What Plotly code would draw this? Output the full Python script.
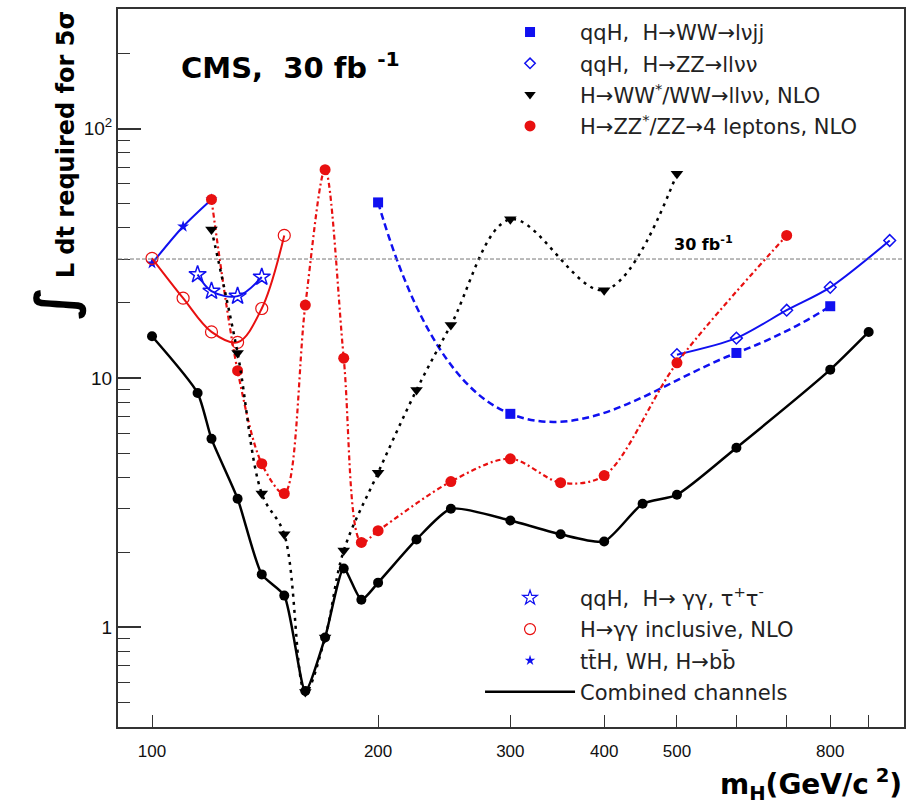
import plotly.graph_objects as go

# ---------------- data ----------------
comb_m = [100, 115, 120, 130, 140, 150, 160, 170, 180, 190, 200, 225, 250, 300, 350, 400, 450, 500, 600, 800, 900]
comb_L = [14.7, 8.7, 5.7, 3.28, 1.63, 1.34, 0.555, 0.91, 1.72, 1.29, 1.51, 2.25, 2.99, 2.68, 2.36, 2.21, 3.13, 3.4, 5.25, 10.8, 15.3]

bb_m = [100, 110, 120]
bb_L = [28.8, 40.5, 52.0]

qqgg_m = [115, 120, 130, 140]
qqgg_L = [26.0, 22.3, 21.3, 25.4]

gg_m = [100, 110, 120, 130, 140, 150]
gg_L = [30.2, 20.9, 15.3, 13.9, 19.0, 37.3]

zz4l_m = [120, 130, 140, 150, 160, 170, 180, 190, 200, 250, 300, 350, 400, 500, 700]
zz4l_L = [52.0, 10.7, 4.53, 3.44, 19.6, 68.5, 12.0, 2.19, 2.44, 3.84, 4.74, 3.8, 4.06, 11.5, 37.3]

ww_m = [120, 130, 140, 150, 160, 170, 180, 200, 225, 250, 300, 400, 500]
ww_L = [39.4, 12.6, 3.44, 2.36, 0.55, 0.91, 2.03, 4.17, 8.95, 16.3, 43.3, 22.5, 66.0]

lvjj_m = [200, 300, 600, 800]
lvjj_L = [50.6, 7.18, 12.6, 19.4]

llvv_m = [500, 600, 700, 800, 960]
llvv_L = [12.4, 14.45, 18.7, 23.1, 35.6]

ref_lumi = 30

x_ticks = [100, 200, 300, 400, 500, 800]
x_minor = [600, 700, 900]
y_ticks = [1, 10, 100]
y_ticktext = ["1", "10", "10<sup>2</sup>"]
y_minor = [0.5, 0.6, 0.7, 0.8, 0.9, 2, 3, 4, 5, 6, 7, 8, 9,
           20, 30, 40, 50, 60, 70, 80, 90, 200, 300]

BLUE = "#1010f0"
RED = "#e81010"
BLACK = "#000000"
FONT = "Liberation Sans, Arial, sans-serif"
WFONT = "DejaVu Sans, Verdana, sans-serif"

fig = go.Figure()

# ---------------- data traces ----------------
fig.add_trace(go.Scatter(x=bb_m, y=bb_L, mode="lines+markers", showlegend=False,
                         line=dict(color=BLUE, width=2, shape="spline", smoothing=0.8),
                         marker=dict(symbol="star", size=9, color=BLUE)))
fig.add_trace(go.Scatter(x=qqgg_m, y=qqgg_L, mode="lines+markers", showlegend=False,
                         line=dict(color=BLUE, width=2, shape="spline", smoothing=1.0),
                         marker=dict(symbol="star-open", size=13, color=BLUE, line=dict(width=1.5))))
fig.add_trace(go.Scatter(x=gg_m, y=gg_L, mode="lines+markers", showlegend=False,
                         line=dict(color=RED, width=2, shape="spline", smoothing=1.0),
                         marker=dict(symbol="circle-open", size=12, color=RED, line=dict(width=1.2))))
fig.add_trace(go.Scatter(x=lvjj_m, y=lvjj_L, mode="lines+markers", showlegend=False,
                         line=dict(color=BLUE, width=2.5, dash="7px,4px", shape="spline", smoothing=1.3),
                         marker=dict(symbol="square", size=10, color=BLUE)))
fig.add_trace(go.Scatter(x=llvv_m, y=llvv_L, mode="lines+markers", showlegend=False,
                         line=dict(color=BLUE, width=2, shape="spline", smoothing=0.8),
                         marker=dict(symbol="diamond-open", size=9, color=BLUE, line=dict(width=1.5))))
fig.add_trace(go.Scatter(x=zz4l_m, y=zz4l_L, mode="lines+markers", showlegend=False,
                         line=dict(color=RED, width=2.2, dash="5px,3px,2px,3px", shape="spline", smoothing=0.9),
                         marker=dict(symbol="circle", size=11, color=RED)))
fig.add_trace(go.Scatter(x=ww_m, y=ww_L, mode="lines+markers", showlegend=False,
                         line=dict(color=BLACK, width=2.5, dash="3px,5px", shape="spline", smoothing=1.0),
                         marker=dict(symbol="triangle-down", size=11, color=BLACK)))
fig.add_trace(go.Scatter(x=comb_m, y=comb_L, mode="lines+markers", showlegend=False,
                         line=dict(color=BLACK, width=2.5, shape="spline", smoothing=0.6),
                         marker=dict(symbol="circle", size=10, color=BLACK)))

# ---------------- legend-only entries ----------------
def leg(name, legend, group, mode, marker=None, line=None):
    kw = dict(x=[None], y=[None], mode=mode, name=name, legend=legend, legendgroup=group)
    if marker is not None:
        kw["marker"] = marker
    if line is not None:
        kw["line"] = line
    fig.add_trace(go.Scatter(**kw))

leg("qqH,  H→WW→lνjj", "legend", "a", "markers", marker=dict(symbol="square", size=10, color=BLUE))
leg("qqH,  H→ZZ→llνν", "legend", "b", "markers",
    marker=dict(symbol="diamond-open", size=8, color=BLUE, line=dict(width=1.5)))
leg("H→WW<sup>*</sup>/WW→llνν, NLO", "legend", "c", "markers",
    marker=dict(symbol="triangle-down", size=10, color=BLACK))
leg("H→ZZ<sup>*</sup>/ZZ→4 leptons, NLO", "legend", "d", "markers",
    marker=dict(symbol="circle", size=11, color=RED))

leg("qqH,  H→ γγ, τ<sup>+</sup>τ<sup>-</sup>", "legend2", "e", "markers",
    marker=dict(symbol="star-open", size=11, color=BLUE, line=dict(width=1.2)))
leg("H→γγ inclusive, NLO", "legend2", "f", "markers",
    marker=dict(symbol="circle-open", size=11, color=RED, line=dict(width=1.2)))
leg("tt̄H, WH, H→bb̄", "legend2", "g", "markers",
    marker=dict(symbol="star", size=8, color=BLUE))
leg("Combined channels", "legend2", "h", "lines", line=dict(color=BLACK, width=2.5))

# ---------------- reference line ----------------
fig.add_hline(y=ref_lumi, line=dict(color="#777777", width=1, dash="4px,2px"))

legend_common = dict(xanchor="left", yanchor="top", bgcolor="rgba(0,0,0,0)",
                     font=dict(family=WFONT, size=21, color="#222222"),
                     itemwidth=90, tracegroupgap=1, traceorder="grouped",
                     itemclick=False, itemdoubleclick=False)

fig.update_layout(
    width=914, height=806,
    margin=dict(l=118, r=10, t=7, b=79),
    paper_bgcolor="white", plot_bgcolor="white",
    font=dict(family=FONT, color="#000000"),
    legend=dict(x=0.4606, y=0.996, **legend_common),
    legend2=dict(x=0.4606, y=0.208, **legend_common),
    xaxis=dict(type="log", range=[1.9547, 3.0013],
               showline=True, linecolor="#333333", linewidth=2, mirror=True,
               showgrid=False, zeroline=False,
               tickmode="array", tickvals=x_ticks, ticktext=[str(v) for v in x_ticks],
               ticks="inside", ticklen=12, tickwidth=1.2, tickcolor="#333333",
               tickfont=dict(family=FONT, size=17, color="#111111"),
               ticklabelstandoff=8,
               minor=dict(tickmode="array", tickvals=x_minor, ticks="inside",
                          ticklen=12, tickwidth=1.2, tickcolor="#333333", showgrid=False)),
    yaxis=dict(type="log", range=[-0.4, 2.48],
               showline=True, linecolor="#333333", linewidth=2, mirror=True,
               showgrid=False, zeroline=False,
               tickmode="array", tickvals=y_ticks, ticktext=y_ticktext,
               ticks="inside", ticklen=23, tickwidth=1.5, tickcolor="#333333",
               tickfont=dict(family=FONT, size=19, color="#111111"),
               minor=dict(tickmode="array", tickvals=y_minor, ticks="inside",
                          ticklen=12, tickwidth=1.2, tickcolor="#333333", showgrid=False)),
)

# ---------------- text ----------------
fig.add_annotation(xref="paper", yref="paper", x=0.077, y=0.92, xanchor="left", yanchor="middle",
                   text="<b>CMS,  30 fb <sup>-1</sup></b>", showarrow=False,
                   font=dict(family=WFONT, size=29, color="#000000"))
fig.add_annotation(xref="paper", yref="paper", x=0.745, y=0.674, xanchor="center", yanchor="middle",
                   text="<b>30 fb<sup>-1</sup></b>", showarrow=False,
                   font=dict(family=WFONT, size=16, color="#000000"))
fig.add_annotation(xref="paper", yref="paper", x=1.0, y=-0.0806, xanchor="right", yanchor="middle",
                   text="<b>m<sub>H</sub>(GeV/c<sup> 2</sup>)</b>", showarrow=False,
                   font=dict(family=WFONT, size=28, color="#000000"))
fig.add_annotation(xref="paper", yref="paper", x=-0.08, y=1.0, xanchor="center", yanchor="top",
                   textangle=-90,
                   text="<b><span style='font-size:54px'>∫</span> L dt required for 5σ</b>",
                   showarrow=False,
                   font=dict(family=WFONT, size=24, color="#000000"))

fig.write_html("out.html")
